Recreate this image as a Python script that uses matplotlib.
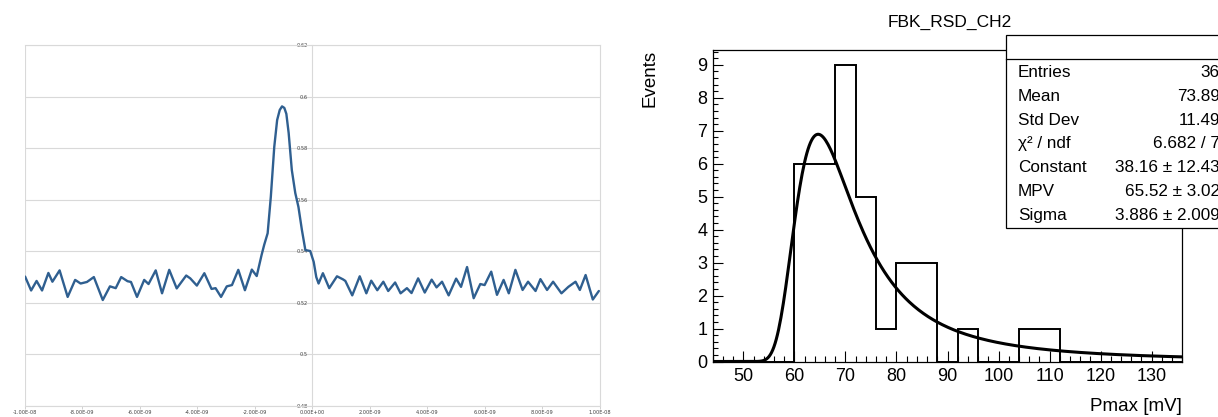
import numpy as np
import matplotlib
matplotlib.use('Agg')
import matplotlib.pyplot as plt
from matplotlib.patches import Rectangle
from matplotlib.lines import Line2D
from matplotlib.ticker import FixedLocator, MultipleLocator, FuncFormatter

# --- left panel: scope waveform (time in ns, amplitude in V) ---
time_ns = [-9.98, -9.77, -9.58, -9.39, -9.17, -9.03, -8.78, -8.50, -8.24, -8.05,
           -7.83, -7.59, -7.28, -7.03, -6.83, -6.64, -6.42, -6.30, -6.09, -5.84,
           -5.69, -5.44, -5.22, -4.97, -4.71, -4.38, -4.24, -4.01, -3.75, -3.50,
           -3.36, -3.17, -2.97, -2.79, -2.57, -2.34, -2.10, -1.93, -1.76, -1.67,
           -1.55, -1.44, -1.32, -1.22, -1.13, -1.05, -0.97, -0.90, -0.82, -0.71,
           -0.59, -0.48, -0.36, -0.24, -0.16, -0.07, 0.05, 0.14, 0.22, 0.37,
           0.59, 0.86, 1.07, 1.15, 1.39, 1.65, 1.88, 2.05, 2.26, 2.47,
           2.64, 2.88, 3.07, 3.29, 3.45, 3.68, 3.91, 4.15, 4.32, 4.51,
           4.74, 5.00, 5.17, 5.38, 5.61, 5.84, 5.99, 6.22, 6.42, 6.65,
           6.83, 7.06, 7.31, 7.50, 7.76, 7.93, 8.16, 8.37, 8.66, 8.90,
           9.15, 9.30, 9.50, 9.75, 9.96]
amplitude = [0.5302, 0.5248, 0.5285, 0.5248, 0.5316, 0.5282, 0.5326, 0.5223, 0.5289, 0.5275,
             0.5281, 0.5300, 0.5211, 0.5264, 0.5257, 0.5300, 0.5284, 0.5281, 0.5223, 0.5289,
             0.5273, 0.5326, 0.5237, 0.5328, 0.5256, 0.5306, 0.5295, 0.5267, 0.5315, 0.5254,
             0.5257, 0.5223, 0.5264, 0.5269, 0.5328, 0.5249, 0.5329, 0.5304, 0.5386, 0.5425,
             0.5470, 0.5611, 0.5805, 0.5909, 0.5948, 0.5962, 0.5956, 0.5933, 0.5859, 0.5715,
             0.5626, 0.5572, 0.5483, 0.5405, 0.5403, 0.5401, 0.5359, 0.5300, 0.5275, 0.5315,
             0.5257, 0.5303, 0.5291, 0.5285, 0.5229, 0.5303, 0.5237, 0.5286, 0.5249, 0.5282,
             0.5246, 0.5279, 0.5237, 0.5257, 0.5238, 0.5295, 0.5240, 0.5290, 0.5260, 0.5282,
             0.5229, 0.5294, 0.5262, 0.5339, 0.5218, 0.5273, 0.5269, 0.5321, 0.5231, 0.5289,
             0.5237, 0.5328, 0.5250, 0.5282, 0.5246, 0.5292, 0.5250, 0.5282, 0.5237, 0.5262,
             0.5282, 0.5250, 0.5308, 0.5213, 0.5246]
wave_xticks = [-1e-8, -8e-9, -6e-9, -4e-9, -2e-9, 0, 2e-9, 4e-9, 6e-9, 8e-9, 1e-8]
wave_yticks = [0.48, 0.50, 0.52, 0.54, 0.56, 0.58, 0.60, 0.62]

# --- right panel: Pmax histogram + Landau fit ---
bin_edges = list(range(44, 140, 4))
counts = [0, 0, 0, 0, 6, 6, 9, 5, 1, 3, 3, 0, 1, 0, 0, 1, 1, 0, 0, 0, 0, 0, 0]
fit_constant = 38.16
fit_mpv = 65.52
fit_sigma = 3.886
hist_title = 'FBK_RSD_CH2'
stat_names = ['Entries', 'Mean', 'Std Dev', 'χ² / ndf', 'Constant', 'MPV', 'Sigma']
stat_values = ['36', '73.89', '11.49', '6.682 / 7', '38.16 ± 12.43', '65.52 ± 3.02', '3.886 ± 2.009']


def landau_pdf(lam):
    # standard Landau density (same convention as ROOT's TMath::Landau, unnormalised by sigma)
    t = np.linspace(0, 30, 20001)
    tlogt = np.where(t > 0, t * np.log(np.where(t > 0, t, 1.0)), 0.0)
    integrand = np.exp(-np.pi * t / 2) * np.cos(np.outer(lam, t) + tlogt)
    return np.trapezoid(integrand, t, axis=1) / np.pi


W, H = 1218, 417
fig = plt.figure(figsize=(W / 100, H / 100), dpi=100)

# ---------------- left: waveform ----------------
grid_c = '#d9d9d9'
ax1 = fig.add_axes([24.5 / W, 11 / H, 575.5 / W, 361 / H])
ax1.plot(np.array(time_ns) * 1e-9, amplitude, color='#2f5f90', lw=1.7,
         solid_joinstyle='round', solid_capstyle='round', zorder=3)
ax1.set_xlim(-1e-8, 1e-8)
ax1.set_ylim(0.48, 0.62)
ax1.spines['left'].set_position(('data', 0))
for s in ax1.spines.values():
    s.set_color(grid_c)
    s.set_linewidth(0.8)
ax1.axvline(-1e-8, color=grid_c, lw=0.8)
ax1.yaxis.set_major_locator(FixedLocator(wave_yticks))
ax1.yaxis.set_major_formatter(FuncFormatter(lambda v, p: f'{v:g}'))
ax1.yaxis.grid(True, color=grid_c, lw=0.8)
ax1.xaxis.set_major_locator(FixedLocator(wave_xticks))
ax1.xaxis.set_major_formatter(FuncFormatter(lambda v, p: f'{v:.2E}'))
ax1.tick_params(axis='y', length=0, pad=3, labelsize=3.6, labelcolor='#404040')
ax1.tick_params(axis='x', length=2, width=0.5, color='#bfbfbf', pad=1,
                labelsize=3.6, labelcolor='#404040')
for lab in ax1.get_yticklabels() + ax1.get_xticklabels():
    lab.set_family('DejaVu Sans')

# ---------------- right: histogram ----------------
plt.rcParams['font.family'] = ['Liberation Sans', 'DejaVu Sans']
ax2 = fig.add_axes([712.7 / W, 55.5 / H, 469.6 / W, 311.5 / H])
ax2.stairs(counts, bin_edges, color='black', lw=1.4, zorder=3)
xf = np.linspace(bin_edges[0], bin_edges[-1], 400)
yf = fit_constant * landau_pdf((xf - fit_mpv) / fit_sigma)
ax2.plot(xf, yf, color='black', lw=2.2, zorder=4)
ax2.set_xlim(bin_edges[0], bin_edges[-1])
ax2.set_ylim(0, max(counts) * 1.05)
ax2.xaxis.set_major_locator(MultipleLocator(10))
ax2.xaxis.set_minor_locator(MultipleLocator(2))
ax2.yaxis.set_major_locator(MultipleLocator(1))
ax2.yaxis.set_minor_locator(MultipleLocator(0.2))
ax2.tick_params(which='both', direction='in', top=False, right=False, width=0.8, color='black')
ax2.tick_params(which='major', axis='y', length=7)
ax2.tick_params(which='minor', axis='y', length=3.5)
ax2.tick_params(which='major', axis='x', length=8)
ax2.tick_params(which='minor', axis='x', length=4)
ax2.tick_params(axis='x', labelsize=13, pad=5)
ax2.tick_params(axis='y', labelsize=13, pad=4)
for s in ax2.spines.values():
    s.set_linewidth(0.9)
    s.set_color('black')
ax2.set_xlabel('Pmax [mV]', fontsize=13.5, loc='right', labelpad=9)
ax2.set_ylabel('Events', fontsize=13.5, loc='top', labelpad=28)

fig.text(950 / W, 1 - 22 / H, hist_title, ha='center', va='center', fontsize=12.5)

# stats box (runs past the right border of the canvas)
box_l, box_t, box_b = 1006 / W, 1 - 35 / H, 1 - 227.5 / H
fig.add_artist(Rectangle((box_l, box_b), 1.1 - box_l, box_t - box_b,
                         transform=fig.transFigure, facecolor='white',
                         edgecolor='black', lw=0.9, zorder=10, clip_on=False))
fig.add_artist(Line2D([box_l, 1.1], [1 - 58.5 / H, 1 - 58.5 / H],
                      transform=fig.transFigure, color='black', lw=0.9, zorder=11))
for i, (name, val) in enumerate(zip(stat_names, stat_values)):
    yy = 1 - (72.5 + i * 23.8) / H
    fig.text(1018 / W, yy, name, ha='left', va='center', fontsize=12.3, zorder=12)
    fig.text(1220 / W, yy, val, ha='right', va='center', fontsize=12.3, zorder=12)

fig.savefig('out.png', dpi=100)
